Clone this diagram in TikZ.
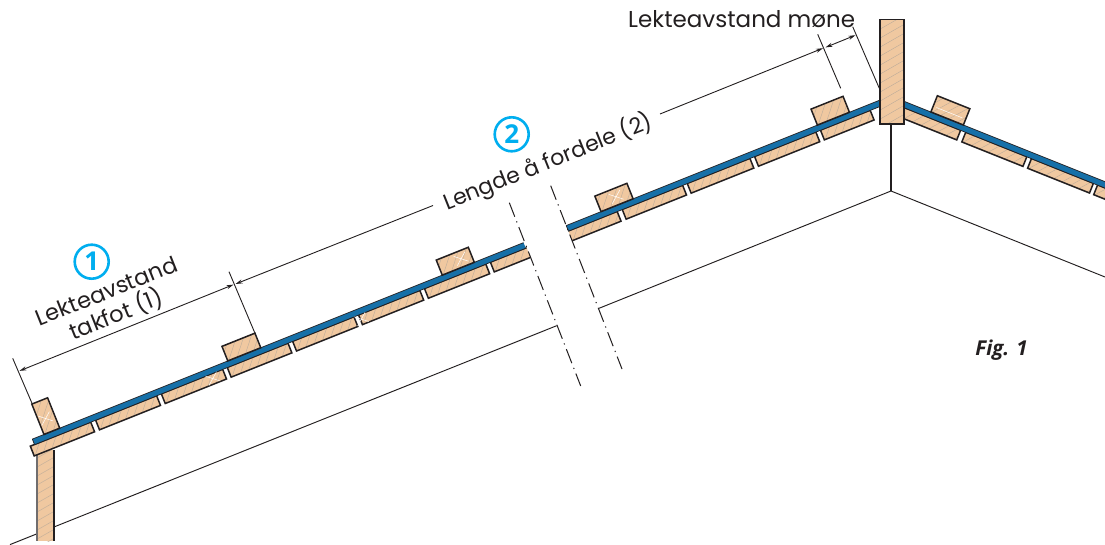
\documentclass[tikz,border=0pt]{standalone}
\usepackage{fontspec}
\setmainfont{Poppins}
\newfontfamily\boldfam{Open Sans}
\usetikzlibrary{arrows.meta}
\definecolor{wood}{HTML}{F0C8A0}
\definecolor{hatch}{HTML}{BDAC9A}
\definecolor{ink}{HTML}{231F20}
\definecolor{roofblue}{HTML}{1670A8}
\definecolor{cyanmark}{HTML}{00AEEF}
\tikzset{
  woodedge/.style={draw=ink,line width=1.5pt,line join=miter},
  hatchline/.style={draw=hatch,line width=0.4pt},
  thinline/.style={draw=ink,line width=0.95pt},
  dimline/.style={draw=ink,line width=0.9pt},
  dimtip/.style={-{Stealth[length=7pt,width=4pt]}},
  cutline/.style={draw=ink,line width=1pt,dash pattern=on 15pt off 5pt on 1.2pt off 5pt},
  label/.style={text=ink,inner sep=0pt,align=center},
  marker/.style={circle,draw=cyanmark,line width=2.6pt,text=cyanmark,minimum size=34pt,inner sep=0pt,font=\boldfam\fontsize{26}{26}\selectfont\bfseries},
  leftroof/.style={shift={(34.5,444.5)},x={(0.9285pt,0.3714pt)},y={(-0.3714pt,0.9285pt)}},
  rightroof/.style={shift={(904,107.5)},x={(0.9285pt,-0.3714pt)},y={(0.3714pt,0.9285pt)}},
}
\newcommand\quadpath[4]{(#1,#2) -- (#3,#2) -- (#3,#4) -- (#1,#4) -- cycle}
% hatched interior of a timber piece, in roof coordinates
\newcommand\woodhatch[4]{%
  \fill[wood] \quadpath{#1}{#2}{#3}{#4};
  \begin{scope}
    \clip \quadpath{#1}{#2}{#3}{#4};
    \foreach \k in {-6,...,10} {
      \pgfmathsetmacro\ua{#1+\k*9}
      \pgfmathsetmacro\ub{\ua+40}
      \draw[hatchline] (\ua,#2-12) -- (\ub,#2+36);
    }
  \end{scope}}
\newcommand\woodbox[4]{\woodhatch{#1}{#2}{#3}{#4}\draw[woodedge] \quadpath{#1}{#2}{#3}{#4};}
\newcommand\whitecross[2]{\draw[white,line width=0.5pt] (#1-6,#2-5) -- (#1+6,#2+5) (#1-6,#2+5) -- (#1+6,#2-5);}
\newcommand\bluestrip[2]{%
  \fill[roofblue] \quadpath{#1}{-0.2}{#2}{5.8};
  \draw[draw=ink,line width=0.7pt] (#1,-0.2) -- (#2,-0.2) (#1,5.8) -- (#2,5.8);
  \draw[draw=ink,line width=0.7pt] (#1,-0.2) -- (#1,5.8);}
\begin{document}
\begin{tikzpicture}[x=1pt,y=-1pt]
\clip (0,0) rectangle (1105,545);
\fill[white] (0,0) rectangle (1105,545);

% wall / ceiling lines behind
\coordinate (wallL) at (10,544.6);
\coordinate (wallM) at (556.7,325.7);
\coordinate (wallN) at (599,308.3);
\coordinate (apex) at (891,191);
\coordinate (wallR) at (1105,277);
\coordinate (postfoot) at (891,124);
\draw[thinline] (wallL) -- (wallM);
\draw[thinline] (wallN) -- (apex) -- (wallR);
\draw[thinline,line width=1.2pt] (postfoot) -- (apex);

% left wall stud
\fill[wood] (37,450) rectangle (54,541);
\begin{scope}
  \clip (37,450) rectangle (54,541);
  \foreach \k in {0,...,11} {\draw[hatchline] (30,462+\k*9) -- (60,445+\k*9);}
\end{scope}
\draw[draw=ink!65,line width=1.2pt] (37,450) -- (37,541);
\draw[draw=ink,line width=1.5pt] (54,450) -- (54,541);

% left roof, lower part
\begin{scope}[leftroof]
  \woodbox{-4.5}{-10.5}{60.5}{0}
  \woodbox{65.8}{-10.5}{131.5}{0}
  \woodbox{136.6}{-10.5}{202.6}{0}
  \woodbox{207.6}{-10.5}{273}{0}
  \woodbox{278}{-10.5}{344}{0}
  \woodbox{349}{-10.5}{415}{0}
  \woodbox{420}{-10.5}{486}{0}
  \woodhatch{491}{-10.5}{530}{0}
  \draw[woodedge] (530,-10.5) -- (491,-10.5) -- (491,0) -- (530,0);
  \bluestrip{0}{529}
  \woodbox{12.5}{5.8}{29.5}{38.5}
  \woodbox{210.5}{5.8}{246}{21.5}
  \woodbox{441.5}{5.8}{476}{22}
  % upper part
  \woodhatch{575}{-10.5}{627.5}{0}
  \draw[woodedge] (575,-10.5) -- (627.5,-10.5) -- (627.5,0) -- (575,0);
  \woodbox{633}{-10.5}{698}{0}
  \woodbox{703}{-10.5}{770.5}{0}
  \woodbox{775.5}{-10.5}{841.5}{0}
  \woodbox{846.5}{-10.5}{900}{0}
  \bluestrip{575}{915}
  \woodbox{612.5}{5.8}{647}{22.5}
  \woodbox{845.5}{5.8}{880}{23}
  \whitecross{350}{-5}
  \whitecross{190}{-5}
  \whitecross{20}{20}
  \whitecross{465}{14}
  \whitecross{632}{14}
\end{scope}

% right roof
\begin{scope}[rightroof]
  \woodbox{-15}{-10.5}{61}{0}
  \woodbox{66.5}{-10.5}{132.3}{0}
  \woodbox{137.3}{-10.5}{204}{0}
  \woodbox{208.5}{-10.5}{275}{0}
  \fill[roofblue] \quadpath{-10}{-0.2}{230}{5.8};
  \draw[draw=ink,line width=0.7pt] (-10,-0.2) -- (230,-0.2) (-10,5.8) -- (230,5.8);
  \woodbox{26.6}{5.8}{61.6}{23.3}
  \draw[white,line width=0.5pt] (30,12) -- (58,12);
\end{scope}

% ridge post
\fill[wood] (880,19.5) rectangle (904,124);
\begin{scope}
  \clip (880,19.5) rectangle (904,124);
  \foreach \k in {0,...,14} {\draw[hatchline] (875,32+\k*9) -- (910,12+\k*9);}
\end{scope}
\draw[woodedge] (880,19.5) rectangle (904,124);

% break lines
\coordinate (cutAa) at (509.3,202.7);
\coordinate (cutAb) at (580.7,386);
\coordinate (cutBa) at (550.7,185.7);
\coordinate (cutBb) at (622,369);
\draw[cutline] (cutAa) -- (cutAb);
\draw[cutline] (cutBa) -- (cutBb);

% extension lines
\coordinate (e1a) at (12.7,358.3);  \coordinate (e1b) at (32.3,404);
\coordinate (e2a) at (229,271.7);   \coordinate (e2b) at (255,333.3);
\coordinate (e3a) at (817.7,34.3);  \coordinate (e3b) at (840.7,88.3);
\coordinate (e4a) at (852.7,26.7);  \coordinate (e4b) at (879.3,88.3);
\draw[dimline] (e1a) -- (e1b);
\draw[dimline] (e2a) -- (e2b);
\draw[dimline] (e3a) -- (e3b);
\draw[dimline] (e4a) -- (e4b);

% dimension lines
\coordinate (d1a) at (19.5,370.9);  \coordinate (d1b) at (233.5,284.6);
\coordinate (d2a) at (235.5,284);   \coordinate (d2b) at (433,205.5);
\coordinate (d2c) at (660,114);     \coordinate (d2d) at (823,48.2);
\coordinate (d3a) at (825.5,47.4);  \coordinate (d3b) at (855.5,35.2);
\draw[dimline,{Stealth[length=7pt,width=4pt]}-{Stealth[length=7pt,width=4pt]}] (d1a) -- (d1b);
\draw[dimline,{Stealth[length=7pt,width=4pt]}-] (d2a) -- (d2b);
\draw[dimline,dimtip] (d2c) -- (d2d);
\draw[dimline,{Stealth[length=7pt,width=4pt]}-{Stealth[length=7pt,width=4pt]}] (d3a) -- (d3b);

% labels
\node[label,anchor=base west,font=\fontsize{23}{26}\selectfont] (moene) at (628,28) {Lekteavstand møne};
\node[label,rotate=21.8,font=\fontsize{22.5}{26}\selectfont] (lek) at (106.5,291) {Lekteavstand};
\node[label,rotate=21.8,font=\fontsize{22.5}{26}\selectfont] (tak) at (116,314) {takfot (1)};
\node[label,rotate=21.8,font=\fontsize{22}{26}\selectfont] (len) at (548,162) {Lengde å fordele (2)};
\node[marker] (m1) at (91.7,261.7) {1};
\node[marker] (m2) at (511.7,134.3) {2};
\node[text=ink,inner sep=0pt,font=\boldfam\fontsize{20.5}{24}\selectfont\bfseries\itshape] (fig) at (1001.5,350) {Fig. 1};
\end{tikzpicture}
\end{document}
